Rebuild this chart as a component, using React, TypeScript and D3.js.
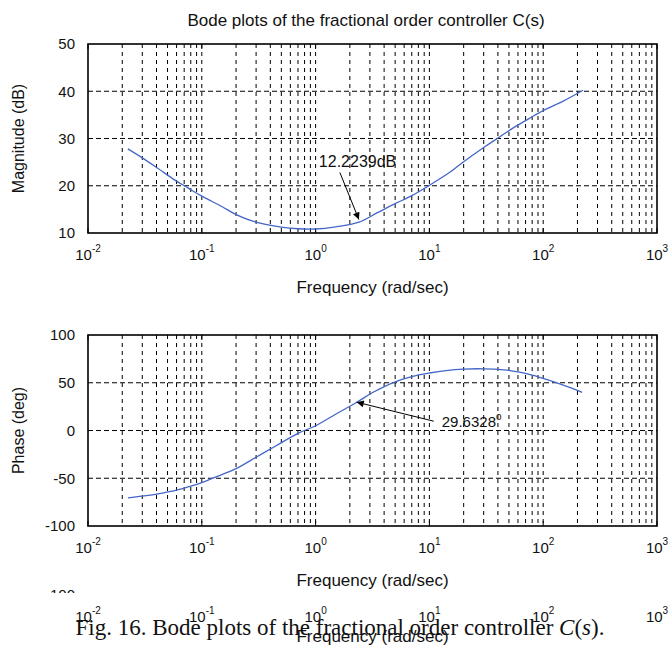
import * as d3 from 'd3'

// Text
const title = 'Bode plots of the fractional order controller C(s)'
const freqLabel = 'Frequency (rad/sec)'
const magLabel = 'Magnitude (dB)'
const phaseLabel = 'Phase (deg)'

// Magnitude curve
const magFreq = [0.0224, 0.03, 0.041, 0.058, 0.076, 0.1, 0.15, 0.2, 0.3, 0.5, 0.7, 1, 1.5, 2.4, 3.5, 5, 7, 10, 15, 20, 30, 40, 55, 75, 100, 150, 224]
const magDb = [27.8, 25.9, 23.7, 21.2, 19.5, 17.8, 15.6, 13.9, 12.3, 11.25, 10.9, 10.85, 11.3, 12.3, 14.3, 16.2, 17.9, 20.1, 22.8, 25.1, 28.1, 30.1, 32.3, 34.2, 35.9, 37.9, 40.2]

// Phase curve
const phaseFreq = [0.0224, 0.03, 0.045, 0.06, 0.08, 0.1, 0.13, 0.2, 0.3, 0.45, 0.7, 1, 1.5, 2.3, 3.2, 5, 7, 10, 14, 20, 30, 45, 60, 80, 110, 150, 220]
const phaseDeg = [-70.5, -68.8, -65.5, -62.5, -58.3, -54.5, -49, -40, -28, -16, -3, 5, 17, 29.6, 40, 51, 56.5, 60.2, 62.8, 64.3, 64.6, 63.5, 61.5, 58, 53, 47.5, 40]

// Ticks
const decades = [-2, -1, 0, 1, 2, 3]
const magTicks = [10, 20, 30, 40, 50]
const phaseTicks = [-100, -50, 0, 50, 100]

// Annotations
const magNote = { w: 2.4, v: 12.2239, label: '12.2239dB' }
const phaseNote = { w: 2.3, v: 29.6328, label: '29.6328' }

const W = 670
const H = 653
const left = 88
const right = 657
const sans = '"Liberation Sans", Arial, Helvetica, sans-serif'
const blue = '#4466c8'

type Pt = [number, number]

function DecadeLabels({ x, y }: { x: d3.ScaleLogarithmic<number, number>; y: number }) {
  return (
    <g fontFamily={sans} fontSize={15} textAnchor="middle" fill="#111">
      {decades.map((e) => (
        <text key={e} x={x(Math.pow(10, e))} y={y}>
          10
          <tspan fontSize={10} dy={-8}>
            {e}
          </tspan>
        </text>
      ))}
    </g>
  )
}

function Panel({
  top,
  bottom,
  domain,
  ticks,
  freq,
  vals,
  ylabel,
}: {
  top: number
  bottom: number
  domain: [number, number]
  ticks: number[]
  freq: number[]
  vals: number[]
  ylabel: string
}) {
  const x = d3.scaleLog().domain([1e-2, 1e3]).range([left, right])
  const y = d3.scaleLinear().domain(domain).range([bottom, top])
  const grid = x.ticks().filter((d) => x(d) > left + 1 && x(d) < right - 1)
  const pts: Pt[] = freq.map((f, i) => [x(f), y(vals[i])])
  const line = d3.line().curve(d3.curveCatmullRom.alpha(0.5))
  const mid = (top + bottom) / 2

  return (
    <g>
      <g stroke="#000" strokeWidth={1}>
        {grid.map((d) => (
          <line key={d} x1={x(d)} x2={x(d)} y1={top} y2={bottom} strokeDasharray="4,4" />
        ))}
        {ticks.slice(1, -1).map((t) => (
          <line key={t} x1={left} x2={right} y1={y(t)} y2={y(t)} strokeDasharray="5,3" />
        ))}
        {decades.map((e) => (
          <g key={e}>
            <line x1={x(Math.pow(10, e))} x2={x(Math.pow(10, e))} y1={bottom} y2={bottom - 5} />
            <line x1={x(Math.pow(10, e))} x2={x(Math.pow(10, e))} y1={top} y2={top + 5} />
          </g>
        ))}
      </g>
      <rect x={left} y={top} width={right - left} height={bottom - top} fill="none" stroke="#000" strokeWidth={1.6} />
      <path d={line(pts)!} fill="none" stroke={blue} strokeWidth={1.3} />
      <g fontFamily={sans} fontSize={15} textAnchor="end" fill="#111">
        {ticks.map((t) => (
          <text key={t} x={left - 13} y={y(t)} dy="0.35em">
            {t}
          </text>
        ))}
      </g>
      <text
        transform={`translate(24,${mid}) rotate(-90)`}
        textAnchor="middle"
        fontFamily={sans}
        fontSize={16}
        fill="#111"
      >
        {ylabel}
      </text>
      <DecadeLabels x={x} y={bottom + 27} />
      <text x={(left + right) / 2} y={bottom + 60} textAnchor="middle" fontFamily={sans} fontSize={17} fill="#111">
        {freqLabel}
      </text>
    </g>
  )
}

export default function App() {
  const x = d3.scaleLog().domain([1e-2, 1e3]).range([left, right])
  const yMag = d3.scaleLinear().domain([10, 50]).range([233, 44])
  const yPh = d3.scaleLinear().domain([-100, 100]).range([526, 335])

  const mTip: Pt = [x(magNote.w), yMag(magNote.v) - 3]
  const pTip: Pt = [x(phaseNote.w), yPh(phaseNote.v)]

  return (
    <svg
      width={W}
      height={H}
      style={{ position: 'absolute', left: 0, top: 0, background: '#fff' }}
    >
      <defs>
        <marker id="arr" viewBox="0 0 10 10" refX={10} refY={5} markerWidth={9} markerHeight={7} orient="auto" markerUnits="userSpaceOnUse">
          <path d="M0,0L10,5L0,10Z" fill="#000" />
        </marker>
        <clipPath id="rem">
          <rect x={0} y={587} width={W} height={6} />
        </clipPath>
      </defs>
      <rect width={W} height={H} fill="#fff" />

      <text x={366} y={26} textAnchor="middle" fontFamily={sans} fontSize={17} fill="#111">
        {title}
      </text>

      <Panel top={44} bottom={233} domain={[10, 50]} ticks={magTicks} freq={magFreq} vals={magDb} ylabel={magLabel} />
      <Panel top={335} bottom={526} domain={[-100, 100]} ticks={phaseTicks} freq={phaseFreq} vals={phaseDeg} ylabel={phaseLabel} />

      {/* magnitude annotation */}
      <line x1={mTip[0] - 19} y1={mTip[1] - 47} x2={mTip[0]} y2={mTip[1]} stroke="#000" strokeWidth={1} markerEnd="url(#arr)" />
      <text x={mTip[0] - 40} y={mTip[1] - 52} fontFamily={sans} fontSize={16} fill="#111">
        {magNote.label}
      </text>

      {/* phase annotation */}
      <line x1={pTip[0] + 77} y1={pTip[1] + 19} x2={pTip[0]} y2={pTip[1]} stroke="#000" strokeWidth={1} markerEnd="url(#arr)" />
      <text x={pTip[0] + 85} y={pTip[1] + 25} fontFamily={sans} fontSize={15} fill="#111">
        {phaseNote.label}
        <tspan fontSize={10} dy={-7}>
          o
        </tspan>
      </text>

      {/* leftovers of the next panel in the scan */}
      <text x={left - 13} y={600} textAnchor="end" fontFamily={sans} fontSize={15} fill="#111" clipPath="url(#rem)">
        -100
      </text>
      <DecadeLabels x={x} y={622} />
      <text x={(left + right) / 2} y={642} textAnchor="middle" fontFamily={sans} fontSize={17} fill="#111">
        {freqLabel}
      </text>

      <text x={340} y={635} textAnchor="middle" fontFamily='"Liberation Serif", "Times New Roman", serif' fontSize={23} fill="#111">
        Fig. 16.  Bode plots of the fractional order controller <tspan fontStyle="italic">C</tspan>(<tspan fontStyle="italic">s</tspan>).
      </text>
    </svg>
  )
}
